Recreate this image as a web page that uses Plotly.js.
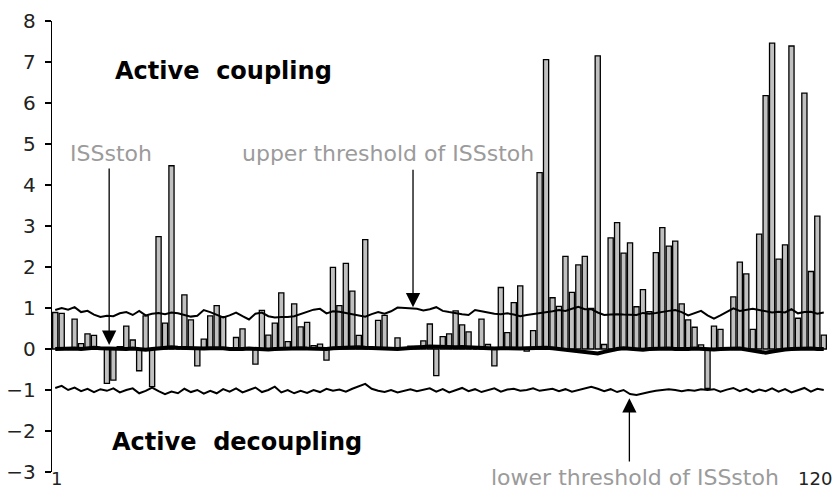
<!DOCTYPE html>
<html>
<head>
<meta charset="utf-8">
<script src="https://cdn.plot.ly/plotly-3.0.1.min.js"></script>
<style>html,body{margin:0;padding:0;background:#fff;}#chart{width:836px;height:490px;}</style>
</head>
<body>
<div id="chart"></div>
<script>
// categories 1..120
const categories = Array.from({length: 120}, (_, i) => i + 1);

// bar values
const barValues = [
  0.89, 0.87, 0.00, 0.73, 0.13, 0.37, 0.33, 0.03, -0.84, -0.76,
  0.06, 0.56, 0.22, -0.53, 0.81, -0.92, 2.74, 0.63, 4.47, 0.00,
  1.32, 0.71, -0.41, 0.24, 0.81, 1.06, 0.79, 0.00, 0.28, 0.49,
  0.00, -0.37, 0.94, 0.34, 0.63, 1.37, 0.18, 1.10, 0.54, 0.65,
  0.08, 0.12, -0.27, 1.99, 1.06, 2.09, 1.41, 0.33, 2.67, 0.00,
  0.70, 0.82, 0.00, 0.27, 0.00, 0.07, 0.07, 0.20, 0.61, -0.65,
  0.30, 0.37, 0.93, 0.59, 0.42, 0.00, 0.73, 0.11, -0.41, 1.50,
  0.40, 1.13, 1.54, -0.05, 0.45, 4.30, 7.06, 1.25, 1.04, 2.26,
  1.38, 2.05, 2.26, 0.99, 7.15, 0.11, 2.71, 3.08, 2.34, 2.59,
  1.03, 1.45, 0.91, 2.35, 2.96, 2.51, 2.63, 1.10, 0.71, 0.53,
  0.10, -0.96, 0.56, 0.48, 0.00, 1.27, 2.12, 1.83, 0.48, 2.80,
  6.18, 7.46, 2.19, 2.54, 7.39, 0.75, 6.24, 1.89, 3.24, 0.34
];

// ISSstoh (thick line near zero)
const issStoh = [
  0.00, 0.01, 0.02, 0.01, 0.00, 0.02, 0.03, 0.02, 0.01, 0.00,
  -0.01, 0.00, 0.01, 0.00, -0.02, 0.00, 0.02, 0.03, 0.04, 0.03,
  0.02, 0.01, 0.00, 0.01, 0.02, 0.03, 0.02, 0.00, -0.01, 0.00,
  0.01, 0.00, -0.02, -0.01, 0.00, 0.01, 0.02, 0.03, 0.02, 0.01,
  0.00, -0.01, 0.00, 0.02, 0.03, 0.04, 0.05, 0.04, 0.03, 0.02,
  0.01, 0.00, -0.01, 0.00, 0.01, 0.03, 0.04, 0.05, 0.06, 0.05,
  0.04, 0.03, 0.04, 0.05, 0.04, 0.02, 0.01, 0.00, 0.01, 0.02,
  0.01, 0.00, 0.01, 0.02, 0.03, 0.04, 0.03, 0.02, 0.00, -0.02,
  -0.03, -0.04, -0.06, -0.08, -0.11, -0.07, -0.03, 0.00, 0.02, 0.01,
  0.00, -0.02, 0.00, 0.01, 0.02, 0.01, 0.00, -0.01, 0.00, 0.01,
  0.00, -0.02, -0.01, 0.00, 0.01, 0.02, 0.01, -0.01, -0.04, -0.07,
  -0.09, -0.06, -0.03, -0.01, 0.00, 0.01, 0.00, 0.01, 0.00, 0.00
];

// upper threshold of ISSstoh
const upperThreshold = [
  0.95, 1.00, 0.96, 1.02, 0.90, 0.93, 0.84, 0.78, 0.81, 0.80,
  0.87, 0.90, 0.83, 0.93, 0.82, 0.86, 0.88, 0.85, 0.89, 0.87,
  0.83, 0.79, 0.81, 0.95, 0.90, 0.83, 0.77, 0.82, 0.89, 0.80,
  0.72, 0.86, 0.89, 0.80, 0.77, 0.78, 0.78, 0.80, 0.85, 0.90,
  0.96, 0.98, 0.87, 0.92, 0.91, 0.88, 0.85, 0.82, 0.79, 0.85,
  0.90, 0.86, 0.92, 1.01, 1.00, 1.00, 0.98, 0.94, 0.97, 1.02,
  0.93, 0.90, 0.87, 0.85, 0.83, 0.95, 0.92, 0.89, 0.86, 0.85,
  0.87, 0.84, 0.80, 0.83, 0.85, 0.87, 0.89, 0.92, 0.95, 0.93,
  0.98, 1.03, 0.97, 0.97, 0.89, 0.83, 0.84, 0.85, 0.84, 0.84,
  0.83, 0.88, 0.86, 0.88, 0.91, 0.93, 0.95, 0.90, 0.82, 0.88,
  0.93, 0.82, 0.74, 0.82, 0.90, 0.99, 0.93, 0.95, 0.98, 0.95,
  0.92, 0.89, 0.91, 0.89, 0.97, 0.87, 0.90, 0.91, 0.86, 0.89
];

// lower threshold of ISSstoh
const lowerThreshold = [
  -0.95, -0.90, -1.00, -0.94, -1.03, -0.97, -1.05, -0.98, -1.02, -0.96,
  -1.06, -1.00, -0.96, -1.08, -1.02, -0.94, -1.03, -1.10, -1.04, -1.08,
  -0.97, -1.05, -1.00, -1.09, -1.02, -1.08, -0.98, -1.04, -0.96, -1.06,
  -1.00, -0.94, -1.05, -1.00, -0.92, -1.06, -1.00, -1.08, -1.02, -1.07,
  -1.00, -1.05, -0.97, -1.02, -0.99, -1.04, -0.97, -0.90, -0.85, -0.97,
  -1.02, -1.05, -1.00, -1.06, -1.02, -0.98, -1.03, -1.00, -0.96, -1.04,
  -0.98, -1.06, -1.00, -0.95, -1.03, -0.98, -1.05, -1.00, -0.96, -1.04,
  -0.99, -0.97, -1.02, -1.00, -0.96, -1.02, -0.99, -0.97, -1.03, -0.98,
  -1.04, -1.00, -0.95, -0.92, -0.97, -1.03, -0.98, -1.05, -1.00, -1.10,
  -1.12, -1.08, -1.05, -1.02, -1.00, -0.98, -1.00, -1.03, -1.00, -1.02,
  -0.98, -1.00, -0.98, -1.04, -0.99, -0.95, -1.03, -0.97, -1.05, -0.99,
  -1.03, -0.96, -1.04, -0.98, -1.06, -1.00, -0.95, -1.04, -0.97, -1.00
];

// category axis labels (only first and last are shown)
const xTickVals = [1, 120];
const xTickText = ['1', '120'];

const FONT = 'DejaVu Sans, Arial, sans-serif';
const GRAY = '#9b9b9b';
const Y_MIN = -3, Y_MAX = 8;

const traces = [
  {
    type: 'bar', x: categories, y: barValues, name: 'values',
    marker: {color: '#c0c0c0', line: {color: '#000', width: 1.3}},
    hoverinfo: 'x+y'
  },
  {
    type: 'scatter', mode: 'lines', x: categories, y: upperThreshold,
    name: 'upper threshold of ISSstoh', line: {color: '#000', width: 2}
  },
  {
    type: 'scatter', mode: 'lines', x: categories, y: lowerThreshold,
    name: 'lower threshold of ISSstoh', line: {color: '#000', width: 2}
  },
  {
    type: 'scatter', mode: 'lines', x: categories, y: issStoh,
    name: 'ISSstoh', line: {color: '#000', width: 4}
  }
];

const arrow = (x, y, ax, ay) => ({
  x: x, y: y, ax: ax, ay: ay, xref: 'x', yref: 'y', axref: 'x', ayref: 'y',
  text: '', showarrow: true, arrowhead: 2, arrowsize: 2.2, arrowwidth: 1.3,
  arrowcolor: '#000', standoff: 0, startstandoff: 0
});

// category-axis labels drawn under the plot (first label centred, last one kept inside the page)
const xLabelAnnotations = xTickVals.map((v, k) => ({
  x: v, xref: 'x', y: -0.014, yref: 'paper', text: xTickText[k], showarrow: false,
  xanchor: k === xTickVals.length - 1 ? 'right' : 'center', yanchor: 'middle',
  xshift: k === xTickVals.length - 1 ? 9 : 1, borderpad: 0,
  font: {family: FONT, size: 18, color: '#222'}
}));

const layout = {
  width: 836, height: 490,
  margin: {l: 52, r: 9, t: 21, b: 18, pad: 0},
  paper_bgcolor: '#fff', plot_bgcolor: '#fff',
  showlegend: false,
  bargap: 0.2,
  font: {family: FONT, size: 20, color: '#222'},
  xaxis: {
    range: [0.5, 120.5], showticklabels: false,
    showgrid: false, zeroline: false, showline: false, ticks: ''
  },
  yaxis: {
    range: [Y_MIN, Y_MAX], dtick: 1, tick0: 0,
    showgrid: false, zeroline: false, showline: true, linecolor: '#000', linewidth: 1.3,
    ticks: 'outside', ticklen: 6, tickcolor: '#000', tickwidth: 1.3,
    ticklabelstandoff: 5,
    tickfont: {family: FONT, size: 20, color: '#222'}
  },
  annotations: [
    {x: 27.06, y: 6.77, xref: 'x', yref: 'y', text: '<b>Active\u00A0 coupling</b>', showarrow: false,
     xanchor: 'center', yanchor: 'middle', font: {family: FONT, size: 24, color: '#000'}},
    {x: 29.07, y: -2.26, xref: 'x', yref: 'y', text: '<b>Active\u00A0 decoupling</b>', showarrow: false,
     xanchor: 'center', yanchor: 'middle', font: {family: FONT, size: 24, color: '#000'}},
    {x: 9.6, y: 4.77, xref: 'x', yref: 'y', text: 'ISSstoh', showarrow: false,
     xanchor: 'center', yanchor: 'middle', font: {family: FONT, size: 22, color: GRAY}},
    {x: 52.6, y: 4.77, xref: 'x', yref: 'y', text: 'upper threshold of ISSstoh', showarrow: false,
     xanchor: 'center', yanchor: 'middle', font: {family: FONT, size: 22, color: GRAY}},
    {x: 90.7, y: (-3.14 - Y_MIN) / (Y_MAX - Y_MIN), xref: 'x', yref: 'paper', text: 'lower threshold of ISSstoh', showarrow: false,
     xanchor: 'center', yanchor: 'middle', borderpad: 0, font: {family: FONT, size: 22, color: GRAY}},
    arrow(9.35, 0.1, 9.35, 4.44),
    arrow(56.4, 1.02, 56.4, 4.41),
    arrow(89.9, -1.2, 89.9, -2.78)
  ].concat(xLabelAnnotations)
};

Plotly.newPlot('chart', traces, layout, {displayModeBar: false, staticPlot: true});
</script>
</body>
</html>
